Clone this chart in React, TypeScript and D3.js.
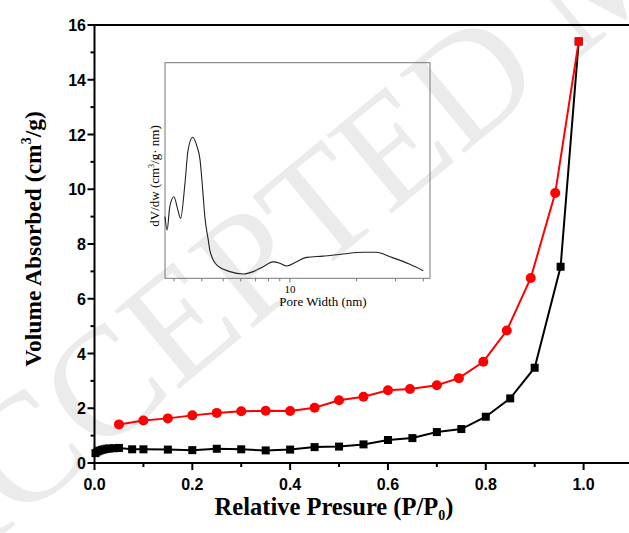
import React from 'react';
import * as d3 from 'd3';

// Main isotherm data
const blackX = [0.002, 0.006, 0.01, 0.015, 0.02, 0.025, 0.03, 0.04, 0.05, 0.077, 0.1, 0.15, 0.2, 0.25, 0.3, 0.35, 0.4, 0.45, 0.5, 0.55, 0.6, 0.65, 0.7, 0.75, 0.8, 0.85, 0.9, 0.953, 0.99];
const blackY = [0.36, 0.42, 0.45, 0.48, 0.5, 0.52, 0.53, 0.54, 0.55, 0.5, 0.5, 0.49, 0.47, 0.52, 0.5, 0.46, 0.49, 0.58, 0.6, 0.68, 0.84, 0.91, 1.13, 1.24, 1.69, 2.36, 3.48, 7.17, 15.4];
const redX = [0.05, 0.1, 0.15, 0.2, 0.25, 0.3, 0.35, 0.4, 0.45, 0.5, 0.55, 0.6, 0.645, 0.7, 0.745, 0.795, 0.843, 0.892, 0.942, 0.99];
const redY = [1.41, 1.55, 1.63, 1.74, 1.83, 1.89, 1.91, 1.9, 2.02, 2.29, 2.42, 2.66, 2.7, 2.84, 3.1, 3.7, 4.84, 6.76, 9.86, 15.4];

const xMajor = [0, 0.2, 0.4, 0.6, 0.8, 1.0];
const xMinor = [0.1, 0.3, 0.5, 0.7, 0.9];
const yMajor = [0, 2, 4, 6, 8, 10, 12, 14, 16];
const yMinor = [1, 3, 5, 7, 9, 11, 13, 15];

// Inset pore size distribution
const poreW = [2.73, 2.79, 2.87, 2.995, 3.12, 3.21, 3.36, 3.47, 3.64, 3.79, 3.93, 4.04, 4.13, 4.28, 4.35, 4.67, 5.36, 6.16, 6.83, 7.58, 8.36, 9.01, 9.66, 10.72, 11.9, 14.1, 17.4, 21.4, 24.6, 28.3, 34.8, 40.0];
const dVdw = [0.286, 0.224, 0.332, 0.378, 0.317, 0.278, 0.441, 0.595, 0.654, 0.618, 0.549, 0.41, 0.286, 0.178, 0.131, 0.062, 0.031, 0.02, 0.031, 0.054, 0.076, 0.07, 0.057, 0.077, 0.097, 0.103, 0.113, 0.121, 0.121, 0.1, 0.065, 0.035];
const insetTicks = [3, 4, 5, 6, 7, 8, 9, 10, 20, 30, 40];
const insetLabels = [10];

export default function App() {
  const x = d3.scaleLinear().domain([0, 1.1]).range([94.5, 632.5]);
  const y = d3.scaleLinear().domain([0, 16]).range([463, 25]);

  const mk = d3.line<[number, number]>().x(d => x(d[0])).y(d => y(d[1]));
  const blackPath = mk(blackX.map((v, i) => [v, blackY[i]] as [number, number]));
  const redPath = mk(redX.map((v, i) => [v, redY[i]] as [number, number]));

  const ix = d3.scaleLog().domain([2.73, 42.9]).range([165, 430]);
  const iy = d3.scaleLinear().domain([0, 1]).range([278.3, 62.7]);
  const insetD = d3.line<[number, number]>().x(d => ix(d[0])).y(d => iy(d[1])).curve(d3.curveMonotoneX)(poreW.map((v, i) => [v, dVdw[i]] as [number, number]));

  const tickFont = "'Liberation Sans', Arial, sans-serif";
  const serif = "'Liberation Serif', 'Times New Roman', serif";
  const sq = 8;

  return (
    <svg width={629} height={533} style={{ position: 'absolute', left: 0, top: 0, background: '#fff' }}>
      {/* watermark */}
      <text x={-70} y={595} transform="rotate(-39.6 -70 595)" fontFamily={serif} fontSize={155} fill="#ebebeb">ACCEPTED MANUSCRIPT</text>

      {/* axes */}
      <line x1={x(0)} x2={640} y1={y(0)} y2={y(0)} stroke="#000" strokeWidth={2} />
      <line x1={x(0)} x2={640} y1={y(16)} y2={y(16)} stroke="#000" strokeWidth={2} />
      <line x1={x(0)} x2={x(0)} y1={y(0) + 1} y2={y(16) - 1} stroke="#000" strokeWidth={2} />
      {xMajor.map(v => <line key={'xm' + v} x1={x(v)} x2={x(v)} y1={y(0)} y2={y(0) + 7} stroke="#000" strokeWidth={2} />)}
      {xMinor.map(v => <line key={'xn' + v} x1={x(v)} x2={x(v)} y1={y(0)} y2={y(0) + 4} stroke="#000" strokeWidth={2} />)}
      {yMajor.map(v => <line key={'ym' + v} x1={x(0) - 7} x2={x(0)} y1={y(v)} y2={y(v)} stroke="#000" strokeWidth={2} />)}
      {yMinor.map(v => <line key={'yn' + v} x1={x(0) - 4} x2={x(0)} y1={y(v)} y2={y(v)} stroke="#000" strokeWidth={2} />)}
      {xMajor.map(v => (
        <text key={'xl' + v} x={x(v)} y={490} textAnchor="middle" fontFamily={tickFont} fontWeight="bold" fontSize={16}>{d3.format('.1f')(v)}</text>
      ))}
      {yMajor.map(v => (
        <text key={'yl' + v} x={86} y={y(v) + 6} textAnchor="end" fontFamily={tickFont} fontWeight="bold" fontSize={16}>{v}</text>
      ))}
      <text x={334} y={515} textAnchor="middle" fontFamily={serif} fontWeight="bold" fontSize={24.5}>
        Relative Presure (P/P<tspan fontSize={14} dy={5}>0</tspan><tspan dy={-5}>)</tspan>
      </text>
      <text transform="translate(41,239) rotate(-90)" textAnchor="middle" fontFamily={serif} fontWeight="bold" fontSize={23.5}>
        Volume Absorbed (cm<tspan fontSize={14} dy={-10}>3</tspan><tspan dy={10}>/g)</tspan>
      </text>

      {/* inset */}
      <rect x={165} y={62.7} width={265} height={215.6} fill="none" stroke="#777" strokeWidth={1} />
      {insetTicks.map(v => <line key={'it' + v} x1={ix(v)} x2={ix(v)} y1={278.3} y2={278.3 + (v === 10 ? 4 : 3)} stroke="#777" strokeWidth={1} />)}
      {insetLabels.map(v => <text key={'il' + v} x={ix(v)} y={293} textAnchor="middle" fontFamily={serif} fontSize={11}>{v}</text>)}
      <text x={323} y={306} textAnchor="middle" fontFamily={serif} fontSize={13}>Pore Width (nm)</text>
      <text transform="translate(159,176) rotate(-90)" textAnchor="middle" fontFamily={serif} fontSize={13}>
        dV/dw (cm<tspan fontSize={8} dy={-5}>3</tspan><tspan dy={5}>/g· nm)</tspan>
      </text>
      <path d={insetD || ''} fill="none" stroke="#222" strokeWidth={1.1} />

      {/* series */}
      <path d={blackPath || ''} fill="none" stroke="#000" strokeWidth={2} />
      {blackX.map((v, i) => (
        <rect key={'b' + i} x={x(v) - sq / 2} y={y(blackY[i]) - sq / 2} width={sq} height={sq} fill="#000" />
      ))}
      <path d={redPath || ''} fill="none" stroke="#ff0000" strokeWidth={2} />
      {redX.map((v, i) => i === redX.length - 1 ? (
        <rect key={'r' + i} x={x(v) - sq / 2} y={y(redY[i]) - sq / 2} width={sq} height={sq} fill="#ff0000" />
      ) : (
        <circle key={'r' + i} cx={x(v)} cy={y(redY[i])} r={5} fill="#ff0000" />
      ))}
    </svg>
  );
}
